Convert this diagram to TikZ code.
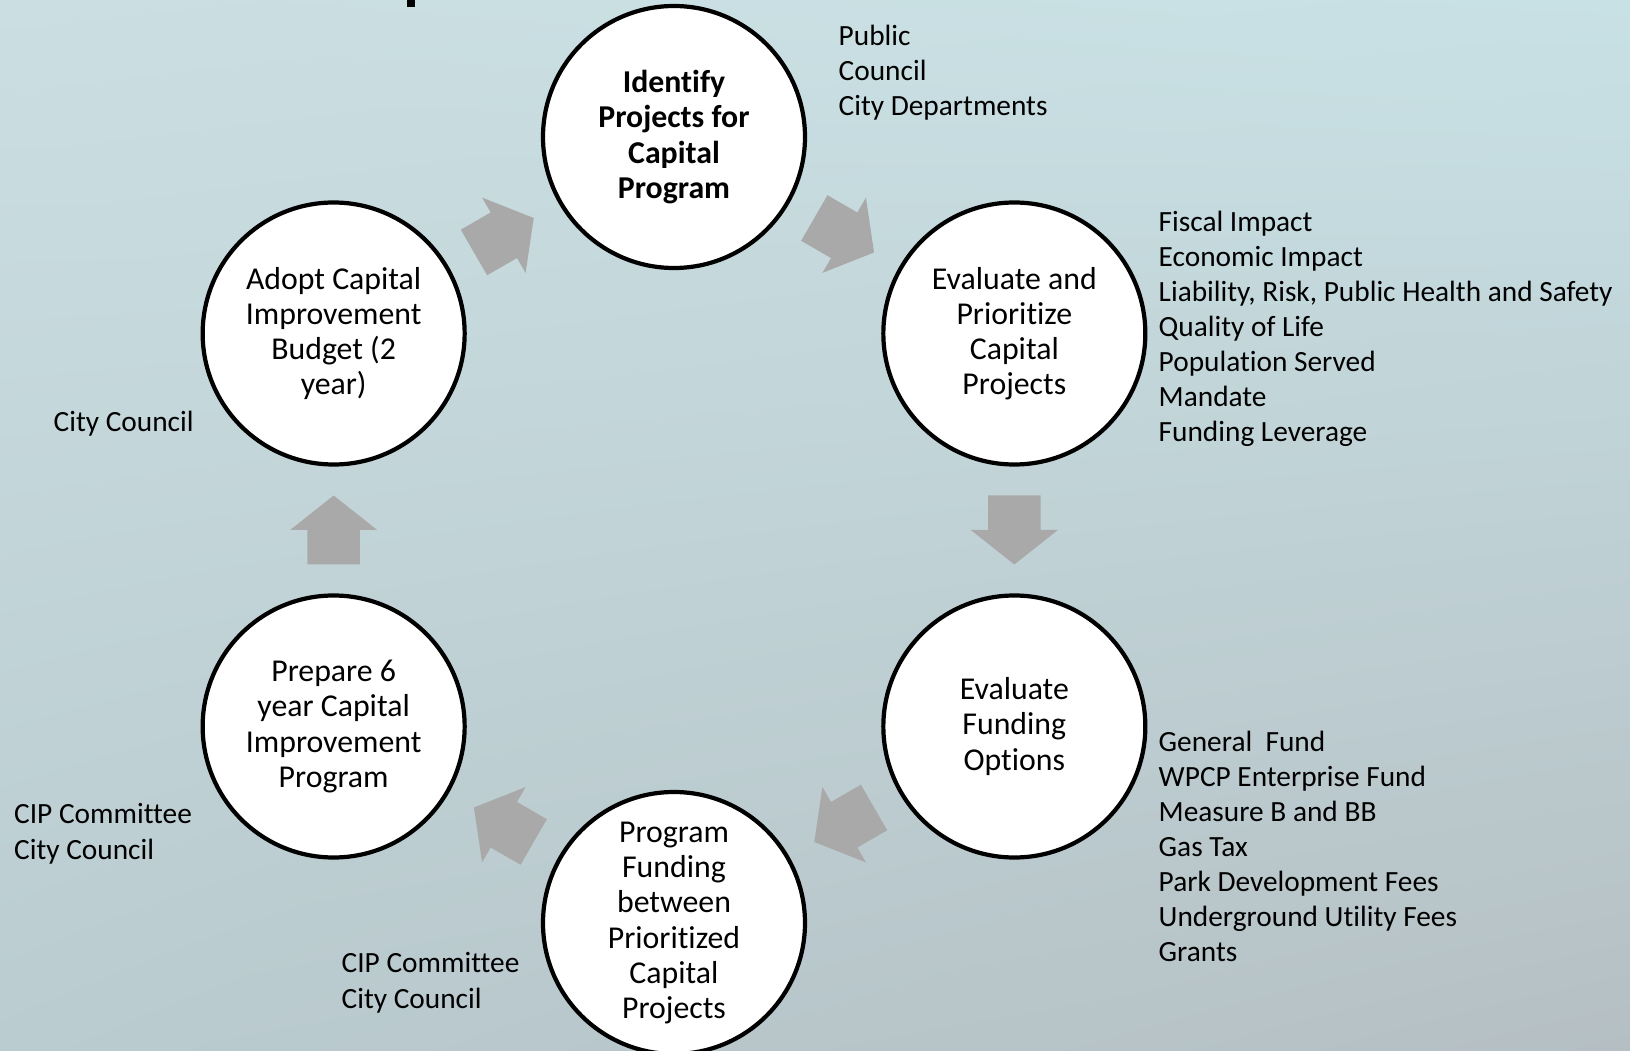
\documentclass[tikz,border=0pt]{standalone}
\usepackage{fontspec}
\setmainfont{Carlito}[Ligatures=NoCommon]
\usetikzlibrary{calc,shadings}
\definecolor{bgtl}{RGB}{203,222,225}
\definecolor{bgtr}{RGB}{200,225,229}
\definecolor{bgbl}{RGB}{186,204,208}
\definecolor{bgbr}{RGB}{181,191,195}
\definecolor{arrowgray}{RGB}{169,169,169}
% block arrow half way between two stages
\newcommand{\cyclearrow}[3]{%
  \fill[arrowgray, shift={($(#1)!0.5!(#2)$)}, rotate=#3]
    (-0.345,-0.263) -- (0,-0.263) -- (0,-0.435) -- (0.345,0) -- (0,0.435) -- (0,0.263) -- (-0.345,0.263) -- cycle;}
\begin{document}
\begin{tikzpicture}[
    font=\fontsize{8.35}{10}\selectfont,
    stage/.style={circle, draw=black, line width=1.2pt, fill=white, minimum size=2.62cm, inner sep=0pt, align=center, font=\fontsize{9.05}{10}\selectfont},
    note/.style={anchor=north west, inner sep=0pt, align=left}]
  % Background
  \useasboundingbox (0,0) rectangle (16.3,10.5);
  \shade[upper left=bgtl, upper right=bgtr, lower left=bgbl, lower right=bgbr] (0,0) rectangle (16.3,10.5);
  \fill[black] (4.07,10.55) rectangle (4.15,10.43);
  % Stages
  \coordinate (hub) at (6.74,5.2);
  \node[stage, font=\fontsize{9.05}{10}\selectfont\bfseries] (identify) at ([shift={(90:3.93)}]hub) {Identify\\Projects for\\Capital\\Program};
  \node[stage] (evaluate) at ([shift={(30:3.93)}]hub) {Evaluate and\\Prioritize\\Capital\\Projects};
  \node[stage] (funding) at ([shift={(-30:3.93)}]hub) {Evaluate\\Funding\\Options};
  \node[stage] (program) at ([shift={(-90:3.93)}]hub) {Program\\Funding\\between\\Prioritized\\Capital\\Projects};
  \node[stage] (prepare) at ([shift={(210:3.93)}]hub) {Prepare 6\\year Capital\\Improvement\\Program};
  \node[stage] (adopt) at ([shift={(150:3.93)}]hub) {Adopt Capital\\Improvement\\Budget (2\\year)};
  % Arrows
  \cyclearrow{adopt}{identify}{30}
  \cyclearrow{identify}{evaluate}{-30}
  \cyclearrow{evaluate}{funding}{-90}
  \cyclearrow{funding}{program}{-150}
  \cyclearrow{program}{prepare}{150}
  \cyclearrow{prepare}{adopt}{90}
  % Who is involved
  \node[note] (identifywho) at (8.38,10.26) {Public\\Council\\City Departments};
  \node[note] (evaluatewho) at (11.58,8.40) {Fiscal Impact\\Economic Impact\\Liability, Risk, Public Health and Safety\\Quality of Life\\Population Served\\Mandate\\Funding Leverage};
  \node[note] (fundingwho) at (11.58,3.20) {General~~Fund\\WPCP Enterprise Fund\\Measure B and BB\\Gas Tax\\Park Development Fees\\Underground Utility Fees\\Grants};
  \node[note] (programwho) at (3.41,0.98) {CIP Committee\\City Council};
  \node[note] (preparewho) at (0.135,2.47) {CIP Committee\\City Council};
  \node[note] (adoptwho) at (0.53,6.40) {City Council};
\end{tikzpicture}
\end{document}
